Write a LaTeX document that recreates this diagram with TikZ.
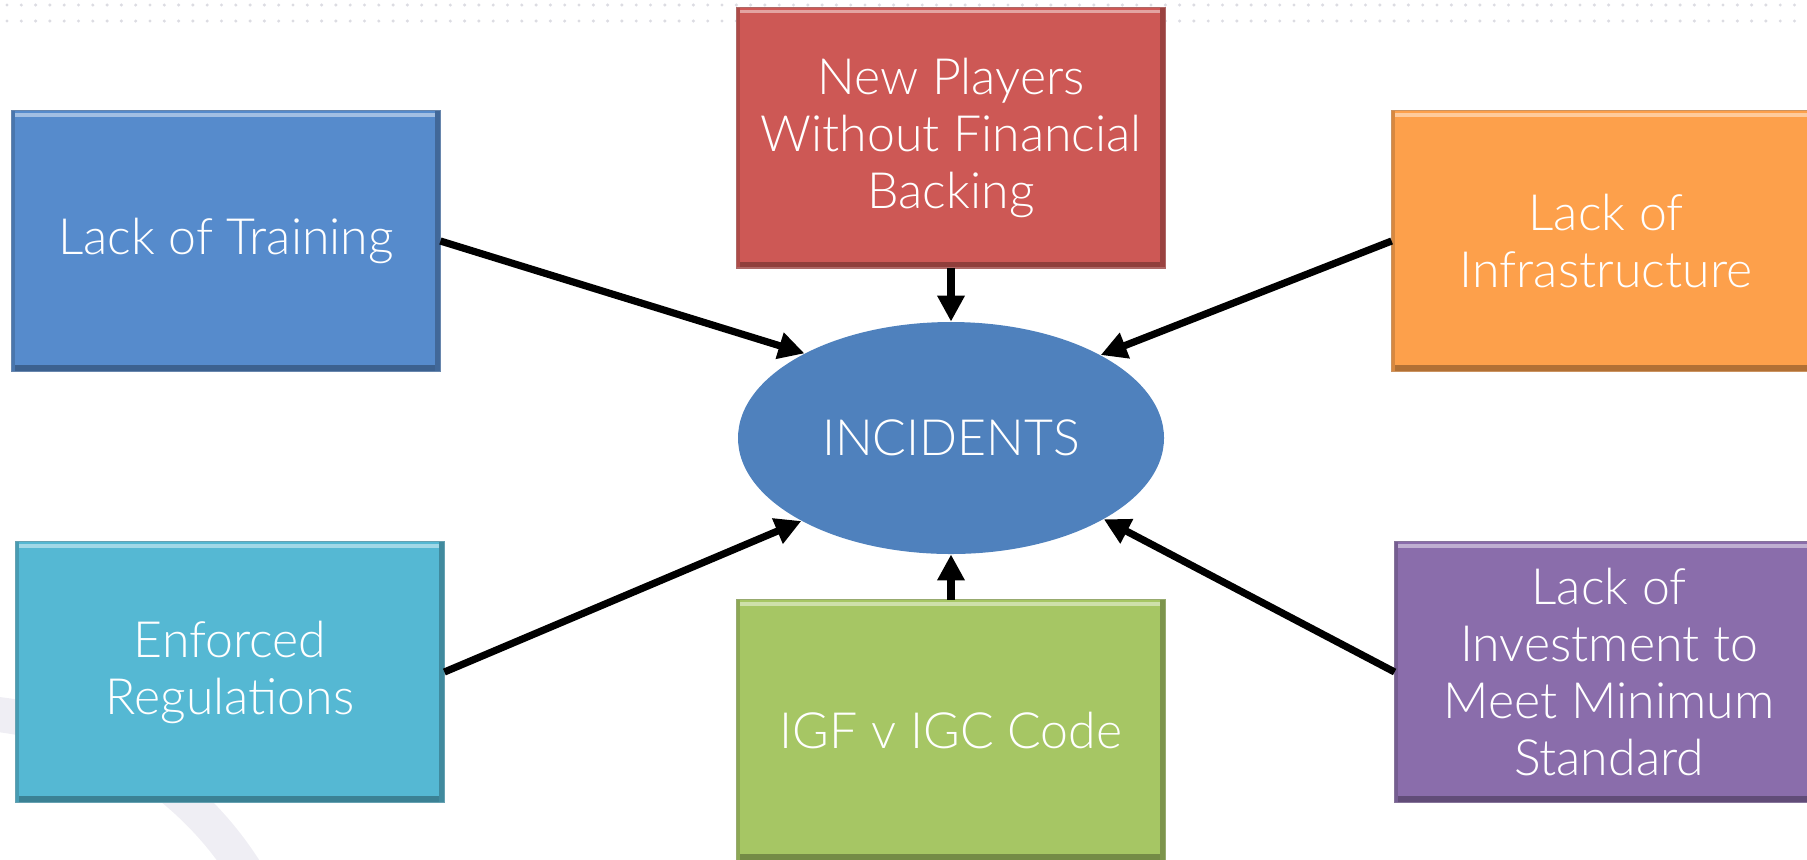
\documentclass[tikz,border=0pt]{standalone}
\usepackage{fontspec}
\setmainfont{Lato Light}
\usetikzlibrary{shapes.geometric,arrows.meta}
\definecolor{cTrain}{HTML}{568BCC}
\definecolor{cPlay}{HTML}{CD5855}
\definecolor{cInfra}{HTML}{FDA04B}
\definecolor{cEnf}{HTML}{55B8D3}
\definecolor{cIgf}{HTML}{A6C664}
\definecolor{cInv}{HTML}{8A6DAB}
\definecolor{cInc}{HTML}{4F81BD}
\definecolor{cDot}{HTML}{DCDCE2}
\definecolor{cArc}{HTML}{EFEEF4}
\tikzset{
  causebox/.style={rectangle, minimum width=214pt, minimum height=130pt, inner sep=0pt,
    text=white, align=center, font=\fontsize{25}{28.5}\selectfont},
  incnode/.style={ellipse, fill=cInc, minimum width=213pt, minimum height=116pt, inner sep=0pt,
    text=white, font=\fontsize{25}{28.5}\selectfont},
  conn/.style={line width=3.6pt, -{Triangle[length=13pt,width=13pt]}},
}
\newcommand{\bevelbox}[2]{%
  \fill[#2] (#1.north west) rectangle (#1.south east);
  \fill[#2!70!black] (#1.south west) rectangle ([yshift=3pt]#1.south east);
  \fill[#2!75!black] ([xshift=-2.5pt]#1.south east) rectangle (#1.north east);
  \fill[#2!85!black] ([xshift=1.5pt]#1.south west) rectangle (#1.north west);
  \fill[#2!55!white] ([yshift=-1.2pt,xshift=1.5pt]#1.north west) rectangle ([yshift=-3pt,xshift=-2.5pt]#1.north east);
  \draw[#2!60!gray, line width=0.6pt] (#1.north west) rectangle (#1.south east);
}
\begin{document}
\begin{tikzpicture}[x=0.5pt,y=-0.5pt]
\useasboundingbox (0,0) rectangle (1807,859);
\begin{scope}
\clip (0,0) rectangle (1807,859);
% dotted background rows
\foreach \i in {0,...,126} {
  \fill[cDot] (7+14.3*\i,5) circle (1.7);
  \fill[cDot] (7+14.3*\i,21) circle (1.7);
}
% background arc
\draw[cArc, line width=17.5pt] (-43,1053) circle (341);
% boxes
\node[causebox] (train) at (226,241) {};
\node[causebox] (play)  at (951,137.5) {};
\node[causebox] (infra) at (1606,241) {};
\node[causebox] (enf)   at (230,672) {};
\node[causebox] (igf)   at (951,730) {};
\node[causebox] (inv)   at (1609,672) {};
\bevelbox{train}{cTrain}
\bevelbox{play}{cPlay}
\bevelbox{infra}{cInfra}
\bevelbox{enf}{cEnf}
\bevelbox{igf}{cIgf}
\bevelbox{inv}{cInv}
\node[causebox] at (train) {Lack of Training};
\node[causebox] at (play) {New Players\\Without Financial\\Backing};
\node[causebox] at (infra) {Lack of\\Infrastructure};
\node[causebox] at (enf) {Enforced\\Regulations};
\node[causebox] at (igf) {IGF v IGC Code};
\node[causebox] at (inv) {Lack of\\Investment to\\Meet Minimum\\Standard};
\node[incnode] (inc) at (951,438) {INCIDENTS};
% connectors
\draw[conn] (train.east) -- (inc.150);
\draw[conn] (play.south) -- (inc.north);
\draw[conn] (infra.west) -- (inc.29);
\draw[conn] (enf.east) -- (inc.209);
\draw[conn] (igf.north) -- (inc.south);
\draw[conn] (inv.west) -- (inc.-28.5);
\end{scope}
\end{tikzpicture}
\end{document}
